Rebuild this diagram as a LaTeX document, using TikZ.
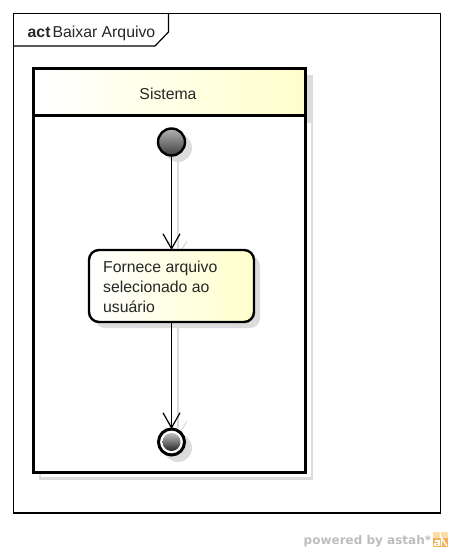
\documentclass[tikz,border=0pt]{standalone}
\usepackage{fontspec}
\setmainfont{Liberation Sans}
\newfontfamily\logofont{DejaVu Sans}
\usetikzlibrary{arrows.meta}
\definecolor{paleyellow}{HTML}{FFFFCC}
\definecolor{shadowgray}{HTML}{DCDCDC}
\definecolor{logogray}{HTML}{BDBDBD}
\definecolor{logoorange}{HTML}{F2B25C}
\definecolor{logopale}{HTML}{FBDDA8}
\tikzset{
  x=1pt,y=-1pt,
  framebox/.style={draw=black,line width=1.2pt,inner sep=0pt,outer sep=0pt},
  lanebox/.style={draw=black,line width=2.6pt,inner sep=0pt,outer sep=0pt},
  headerbox/.style={lanebox,left color=white,right color=paleyellow},
  shadowline/.style={draw=shadowgray,line width=2.4pt},
  actionbox/.style={draw=black,line width=2.4pt,rounded corners=10pt,inner sep=0pt,outer sep=0pt,
    minimum width=165pt,minimum height=72pt,left color=white,right color=paleyellow},
  startdot/.style={circle,draw=black,line width=2.4pt,inner sep=0pt,outer sep=0pt,minimum size=27pt,
    top color=gray!60,bottom color=black!75},
  enddot/.style={circle,draw=black,line width=3pt,fill=white,inner sep=0pt,outer sep=0pt,minimum size=26pt},
  enddotinner/.style={circle,inner sep=0pt,outer sep=0pt,minimum size=18pt,draw=none,
    top color=gray!50,bottom color=black!85},
  flowedge/.style={draw=black,line width=1.2pt,-{Straight Barb[length=15pt,width=17pt,line width=1.2pt]}},
  shadowedge/.style={draw=shadowgray,line width=1.2pt},
  label/.style={font=\fontsize{15.8}{20}\selectfont,inner sep=0pt,text=black!85},
}
\begin{document}
\begin{tikzpicture}
\useasboundingbox (0,0) rectangle (453,552);
% frame
\node[framebox,minimum width=427pt,minimum height=499.5pt,anchor=north west] (frame) at (13.5,13.5) {};
\coordinate (tabA) at (168.5,13.5);
\coordinate (tabB) at (168.5,32);
\coordinate (tabC) at (155,46);
\coordinate (tabD) at (13.5,46);
\draw[draw=black,line width=1.2pt] (tabA) -- (tabB) -- (tabC) -- (tabD);
\node[label,anchor=base west] (title) at (27.5,37) {\textbf{act}\kern2pt Baixar Arquivo};
% shadows of the partition
\fill[shadowgray] (39,75) rectangle (313,123);
\draw[shadowline] (40,123) -- (40,478.5) -- (312,478.5) -- (312,123);
% partition
\node[lanebox,fill=white,minimum width=272pt,minimum height=357pt,anchor=north west] (lane) at (33.5,115.5) {};
\node[headerbox,minimum width=272pt,minimum height=47pt,anchor=north west] (header) at (33.5,68.5) {};
\node[label,anchor=base] (headertext) at (168,99) {Sistema};
% node shadows
\fill[shadowgray] (178,148) circle (14);
\fill[shadowgray,rounded corners=10pt] (95,256) rectangle (260,328);
\fill[shadowgray] (178,448) circle (14);
\draw[shadowedge] (178,160) -- (178,256);
\draw[shadowedge] (178,240) -- (178,428);
\draw[shadowedge] (169,241) -- (178,256) -- (187,241);
\draw[shadowedge] (169,421) -- (178,436) -- (187,421);
% nodes
\node[startdot] (start) at (171.5,142) {};
\node[actionbox] (action) at (171.5,286) {};
\node[enddot] (end) at (171.5,442) {};
\node[enddotinner] (endinner) at (171.5,442) {};
\node[label,anchor=base west] (l1) at (103,272) {Fornece arquivo};
\node[label,anchor=base west] (l2) at (103,292) {selecionado ao};
\node[label,anchor=base west] (l3) at (103,312) {usuário};
% connectors
\draw[flowedge] (start) -- (action);
\draw[flowedge] (action) -- (end);
% footer
\node[anchor=base west,inner sep=0pt,text=logogray,font=\logofont\bfseries\fontsize{12}{15}\selectfont] (powered) at (303.5,544) {powered by astah*};
\fill[logoorange] (433,532) rectangle (448,547);
\fill[logopale] (433,532) rectangle (448,538);
\draw[white,line width=1.3pt] (435,541) -- (439,541) -- (439,545.5) -- (435,545.5) -- (435,543.2) -- (439,543.2);
\draw[white,line width=1.3pt] (441.5,546) -- (441.5,538) -- (447,546);
\draw[white,line width=1pt] (440.5,532) -- (440.5,538);
\end{tikzpicture}
\end{document}
